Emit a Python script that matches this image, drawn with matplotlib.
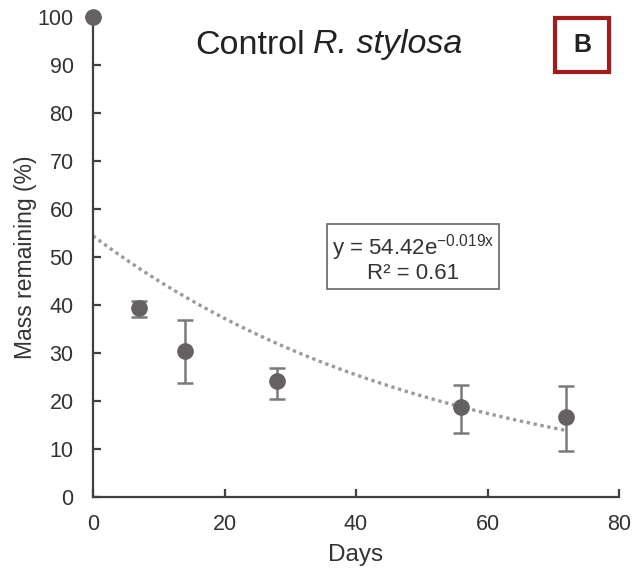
import numpy as np
import matplotlib.pyplot as plt
from matplotlib.patches import Rectangle

plt.rcParams['font.family'] = ['Liberation Sans', 'DejaVu Sans']
plt.rcParams['mathtext.fontset'] = 'custom'
plt.rcParams['mathtext.rm'] = 'Liberation Sans'
plt.rcParams['mathtext.it'] = 'Liberation Sans:italic'

# data
days = [0, 7, 14, 28, 56, 72]
mass = [100, 39.3, 30.4, 24.1, 18.8, 16.6]
err_lo = [0, 1.8, 6.6, 3.7, 5.4, 7.0]
err_hi = [0, 1.5, 6.4, 2.7, 4.6, 6.5]

# exponential fit shown on chart
fit_a = 54.42
fit_k = -0.019
fit_end = 72

fig = plt.figure(figsize=(6.41, 5.69), dpi=100)
ax = fig.add_axes([93 / 641, 72 / 569, 526 / 641, 480 / 569])

xf = np.linspace(0, fit_end, 200)
ax.plot(xf, fit_a * np.exp(fit_k * xf), linestyle=(0, (1, 1.1)), color='#9a9a9a', lw=2.4, zorder=1)

ax.errorbar(days, mass, yerr=[err_lo, err_hi], fmt='o', ms=11, color='#656163',
            ecolor='#7a7a7a', elinewidth=1.8, capsize=6, capthick=1.8, zorder=3, clip_on=False)

ax.set_xlim(0, 80)
ax.set_ylim(0, 100)
ax.set_xticks([0, 20, 40, 60, 80])
ax.set_yticks(range(0, 101, 10))
for s in ['top', 'right']:
    ax.spines[s].set_visible(False)
for s in ['left', 'bottom']:
    ax.spines[s].set_linewidth(1.6)
    ax.spines[s].set_color('#404040')
ax.tick_params(direction='in', length=6, width=1.6, color='#404040', labelsize=15.5, labelcolor='#333333')
ax.tick_params(axis='y', pad=14)
ax.tick_params(axis='x', pad=12)

ax.set_xlabel('Days', fontsize=17.5, color='#333333', labelpad=7)
ax.set_ylabel('Mass remaining (%)', fontsize=16.5, color='#333333', labelpad=0)

# title: upright + italic pieces
fig.text(195 / 641, 1 - 45 / 569, 'Control', fontsize=24.5, ha='left', va='center', color='#222222')
fig.text(313 / 641, 1 - 45 / 569, 'R. stylosa', fontsize=24.5, style='italic', ha='left', va='center',
         color='#222222')

ax.text(413 / 641, 1 - 258 / 569, 'y = 54.42e$^{\\mathrm{-0.019x}}$\nR² = 0.61', transform=fig.transFigure,
        ha='center', va='center', fontsize=16, color='#333333', linespacing=1.0,
        bbox=dict(boxstyle='square,pad=0.22', fc='white', ec='#666666', lw=1.2))

fig.patches.append(Rectangle((555 / 641, 1 - 72 / 569), 54 / 641, 54 / 569, transform=fig.transFigure,
                             fill=False, ec='#a31c1c', lw=3))
fig.text(582 / 641, 1 - 45 / 569, 'B', fontsize=18, fontweight='bold', ha='center', va='center', color='#222222')

fig.savefig('out.png', dpi=100)
